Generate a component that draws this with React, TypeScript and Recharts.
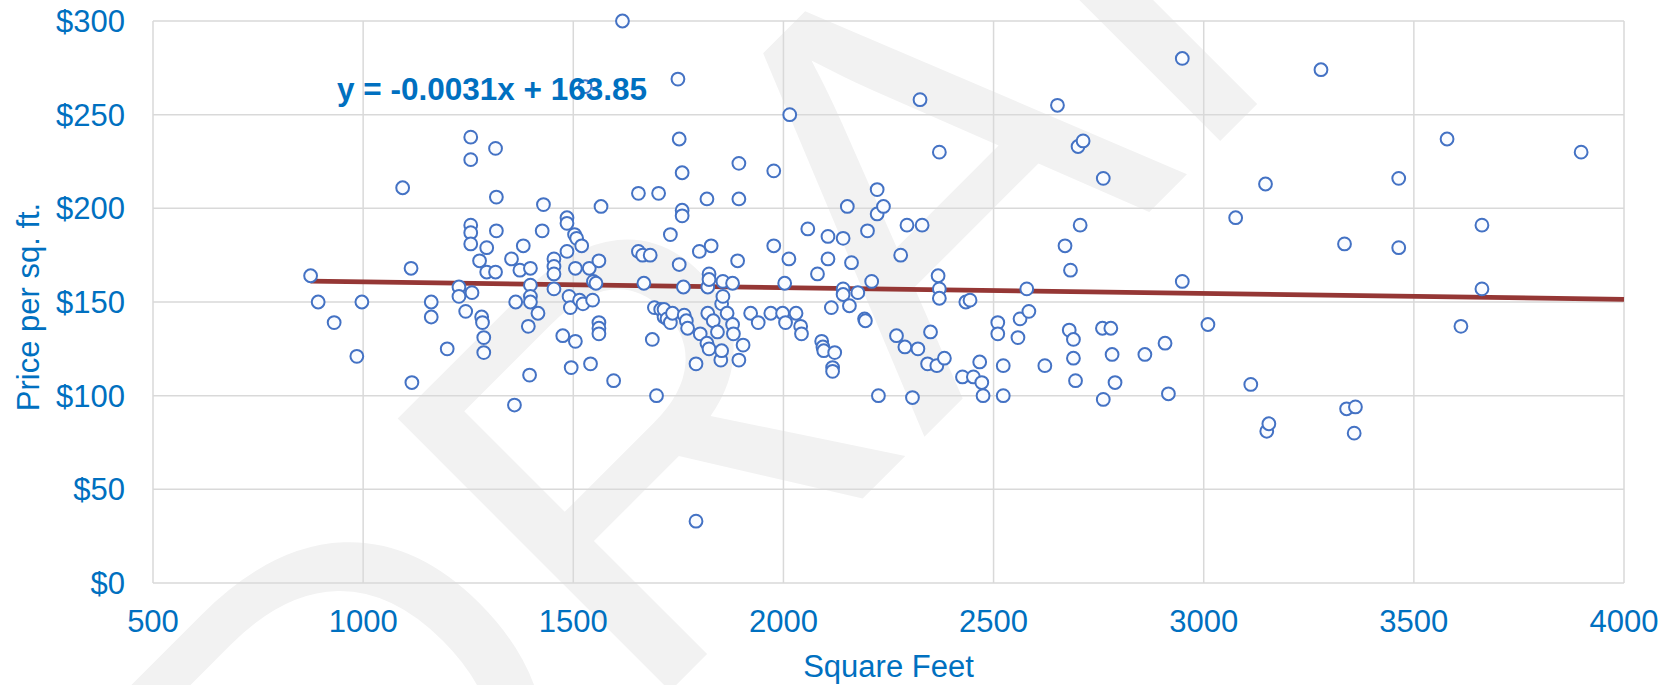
import { ScatterChart, Scatter, XAxis, YAxis, CartesianGrid, ReferenceLine } from "recharts";

// square feet / price per sq. ft. pairs
const SQFT = [
  875, 893, 931, 985, 997, 1094, 1114, 1116, 1162, 1162, 1200, 1228, 1228, 1244, 1256, 1256, 1256, 1256, 1256, 1259,
  1277, 1282, 1284, 1287, 1287, 1294, 1294, 1315, 1317, 1317, 1315, 1353, 1363, 1360, 1373, 1381, 1393, 1396, 1398, 1398,
  1398, 1398, 1416, 1426, 1429, 1454, 1454, 1454, 1454, 1475, 1485, 1485, 1485, 1490, 1493, 1495, 1503, 1508, 1505, 1505,
  1515, 1520, 1523, 1528, 1538, 1541, 1546, 1548, 1554, 1561, 1561, 1561, 1561, 1566, 1596, 1617, 1655, 1655, 1665, 1668,
  1683, 1688, 1693, 1698, 1703, 1708, 1716, 1716, 1723, 1731, 1731, 1736, 1749, 1752, 1752, 1759, 1759, 1759, 1762, 1764,
  1769, 1772, 1792, 1792, 1800, 1802, 1818, 1820, 1820, 1823, 1823, 1818, 1823, 1828, 1833, 1843, 1851, 1853, 1853, 1856,
  1856, 1866, 1879, 1879, 1881, 1891, 1894, 1894, 1894, 1904, 1922, 1940, 1970, 1977, 1977, 1998, 2003, 2005, 2013, 2015,
  2030, 2041, 2043, 2058, 2081, 2091, 2094, 2096, 2106, 2106, 2114, 2117, 2117, 2122, 2142, 2142, 2142, 2152, 2157, 2162,
  2177, 2193, 2195, 2200, 2210, 2223, 2223, 2226, 2238, 2269, 2279, 2289, 2294, 2307, 2320, 2325, 2330, 2343, 2350, 2365,
  2368, 2371, 2371, 2371, 2383, 2426, 2434, 2444, 2452, 2467, 2472, 2475, 2510, 2510, 2523, 2523, 2558, 2563, 2579, 2584,
  2622, 2652, 2670, 2680, 2683, 2690, 2690, 2695, 2701, 2706, 2713, 2759, 2761, 2761, 2779, 2782, 2789, 2860, 2908, 2916,
  2949, 2949, 3010, 3076, 3112, 3147, 3150, 3155, 3279, 3335, 3340, 3361, 3358, 3464, 3464, 3579, 3612, 3662, 3662, 3898,
];
const PRICE = [
  164, 150, 139, 121, 150, 211, 168, 107, 142, 150, 125, 158, 153, 145, 238, 226, 191, 187, 181, 155,
  172, 142, 139, 131, 123, 179, 166, 232, 206, 188, 166, 173, 150, 95, 167, 180, 137, 111, 168, 159,
  153, 150, 144, 188, 202, 173, 169, 165, 157, 132, 195, 192, 177, 153, 147, 115, 186, 184, 168, 129,
  151, 180, 149, 265, 168, 117, 151, 161, 160, 172, 139, 136, 133, 201, 108, 300, 208, 177, 175, 160,
  175, 130, 147, 100, 208, 146, 142, 146, 141, 186, 139, 144, 269, 237, 170, 219, 199, 196, 158, 143,
  140, 136, 117, 33, 177, 133, 205, 144, 158, 165, 162, 128, 125, 180, 140, 134, 119, 124, 149, 161,
  153, 144, 160, 138, 133, 172, 224, 205, 119, 127, 144, 139, 144, 220, 180, 144, 160, 139, 173, 250,
  144, 137, 133, 189, 165, 129, 126, 124, 185, 173, 147, 115, 113, 123, 184, 157, 154, 201, 148, 171,
  155, 141, 140, 188, 161, 210, 197, 100, 201, 132, 175, 126, 191, 99, 125, 258, 191, 117, 134, 116,
  164, 230, 157, 152, 120, 110, 150, 151, 110, 118, 107, 100, 139, 133, 116, 100, 131, 141, 157, 145,
  116, 255, 180, 135, 167, 130, 120, 108, 233, 191, 236, 136, 216, 98, 136, 122, 107, 122, 128, 101,
  161, 280, 138, 195, 106, 213, 81, 85, 274, 181, 93, 94, 80, 179, 216, 237, 137, 191, 157, 230,
];

const X_TICKS = [500, 1000, 1500, 2000, 2500, 3000, 3500, 4000];
const Y_TICKS = [0, 50, 100, 150, 200, 250, 300];

// linear trendline shown on the chart
const TREND_SLOPE = -0.0031;
const TREND_INTERCEPT = 163.85;
const TREND_LABEL = "y = -0.0031x + 163.85";

const X_TITLE = "Square Feet";
const Y_TITLE = "Price per sq. ft.";
const WATERMARK = "DRAFT";

const BLUE_TEXT = "#0070C0";
const FONT = "'Liberation Sans', Arial, sans-serif";

const points = SQFT.map((x, i) => ({ x, y: PRICE[i] }));
const xMin = Math.min(...SQFT);
const xMax = X_TICKS[X_TICKS.length - 1];
const trend = (x: number) => TREND_SLOPE * x + TREND_INTERCEPT;

const Dot = (props: any) => (
  <circle cx={props.cx} cy={props.cy} r={6.4} fill="#fafcff" stroke="#4472C4" strokeWidth={2} />
);

export default function App() {
  return (
    <div style={{ position: "absolute", left: 0, top: 0, width: 1672, height: 685, fontFamily: FONT, background: "#fff", overflow: "hidden" }}>
      {/* faint watermark behind the chart */}
      <svg width={1672} height={685} style={{ position: "absolute", left: 0, top: 0 }}>
        <text
          x={873}
          y={211}
          dy="0.35em"
          textAnchor="middle"
          fontSize={560}
          fill="#f2f2f2"
          fontFamily={FONT}
          transform="rotate(-45 873 211)"
        >
          {WATERMARK}
        </text>
      </svg>

      <div style={{ position: "absolute", left: 0, top: 0 }}>
        <ScatterChart width={1672} height={685} margin={{ top: 21, right: 48, left: 0, bottom: 0 }}>
          <CartesianGrid stroke="#d9d9d9" strokeWidth={1.5} />
          <XAxis
            type="number"
            dataKey="x"
            domain={[500, 4000]}
            ticks={X_TICKS}
            height={102}
            tickLine={false}
            axisLine={false}
            tickSize={0}
            tickMargin={27}
            tick={{ fill: BLUE_TEXT, fontSize: 31, fontFamily: FONT }}
            label={{ value: X_TITLE, position: "insideBottom", offset: 8, fill: BLUE_TEXT, fontSize: 31, fontFamily: FONT }}
          />
          <YAxis
            type="number"
            dataKey="y"
            domain={[0, 300]}
            ticks={Y_TICKS}
            width={153}
            tickLine={false}
            axisLine={false}
            tickSize={0}
            tickMargin={28}
            tickFormatter={(v) => `$${v}`}
            tick={{ fill: BLUE_TEXT, fontSize: 31, fontFamily: FONT }}
          />
          <Scatter data={points} shape={Dot} isAnimationActive={false} />
          <ReferenceLine
            segment={[
              { x: xMin, y: trend(xMin) },
              { x: xMax, y: trend(xMax) },
            ]}
            stroke="#953735"
            strokeWidth={4.8}
          />
        </ScatterChart>
      </div>

      <svg width={1672} height={685} style={{ position: "absolute", left: 0, top: 0, pointerEvents: "none" }}>
        <text x={337} y={99.6} fontSize={31.5} fontWeight="bold" fill={BLUE_TEXT} fontFamily={FONT}>
          {TREND_LABEL}
        </text>
        <text
          x={0}
          y={0}
          textAnchor="middle"
          fontSize={31}
          fill={BLUE_TEXT}
          fontFamily={FONT}
          transform="translate(39 307) rotate(-90)"
        >
          {Y_TITLE}
        </text>
      </svg>
    </div>
  );
}
